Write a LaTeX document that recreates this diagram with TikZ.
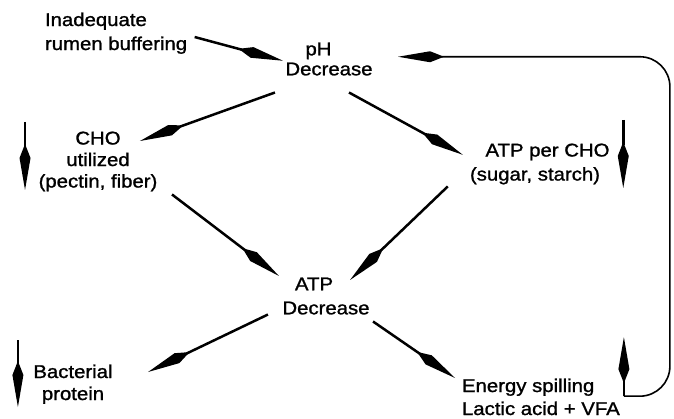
\documentclass[tikz,border=0pt]{standalone}
\usepackage{fontspec}
\setmainfont{Liberation Sans}[FakeStretch=1.1,FakeBold=1.2]
\usetikzlibrary{arrows.meta,calc}
\begin{document}
\begin{tikzpicture}[x=1pt,y=-1pt,
  lbl/.style={inner sep=0pt,outer sep=0pt,align=center,anchor=north,font=\fontsize{18.5}{#1}\selectfont},
  lbl/.default=23,
  tipk/.tip={Kite[length=46pt,width=11pt,inset=14pt]},
  arr/.style={line width=2.5pt,-tipk},
  fb/.style={line width=1.6pt,rounded corners=30pt,-tipk}]
\useasboundingbox (0,0) rectangle (674,419);

\node[lbl=24,align=left,anchor=north west] (inad) at (45,12.6) {Inadequate\\rumen buffering};
\node[lbl=20] (ph) at (329,42.6) {pH\hspace*{21pt}\\Decrease};
\node[lbl=21.5] (cho) at (98,131.6) {CHO\\utilized\\(pectin, fiber)};
\node[lbl=24] (atpc) at (535,143.6) {\hspace*{25pt}ATP per CHO\\(sugar, starch)};
\node[lbl=24] (atpd) at (326,277.6) {ATP\hspace*{24pt}\\Decrease};
\node[lbl=22] (bact) at (73,364.6) {Bacterial\\protein};
\node[lbl=23,align=left,anchor=north west] (energy) at (462,378.6) {Energy spilling\\Lactic acid + VFA};

\draw[arr] ($(inad.east)+(7.5,3.8)$) -- ($(ph.west)+(-2.5,1.7)$);
\draw[arr] ($(ph.south west)+(-10.5,17)$) -- ($(cho.north east)+(-17.4,9.4)$);
\draw[arr] ($(ph.south)+(20,17)$) -- ($(atpc.west)+(2.25,-9.2)$);
\draw[arr] ($(cho.south east)+(14.6,3.1)$) -- ($(atpd.north west)+(-3.5,-1.6)$);
\draw[arr] ($(atpc.south west)+(-12.75,2.1)$) -- ($(atpd.north east)+(-19.5,2.4)$);
\draw[arr] ($(atpd.south west)+(-14.5,0)$) -- ($(bact.north east)+(35.5,7.4)$);
\draw[arr] ($(atpd.south east)+(3.5,7)$) -- ($(energy.north west)+(-7,-0.6)$);

\draw[arr] ($(cho.north west)+(-13.6,-9.6)$) -- ++(0,68);
\draw[arr] ($(atpc.north east)+(13.75,-23.6)$) -- ++(0,68);
\draw[arr] ($(bact.north west)+(-15.5,-24.6)$) -- ++(0,67);
\coordinate (upb) at ($(energy.south east)+(4.1,-19)$);
\draw[arr] (upb) -- ++(0,-59);

\coordinate (fbtip) at ($(ph.east)+(25.5,-2.3)$);
\draw[fb] (upb) -- ++(46,0) |- (fbtip);
\end{tikzpicture}
\end{document}
